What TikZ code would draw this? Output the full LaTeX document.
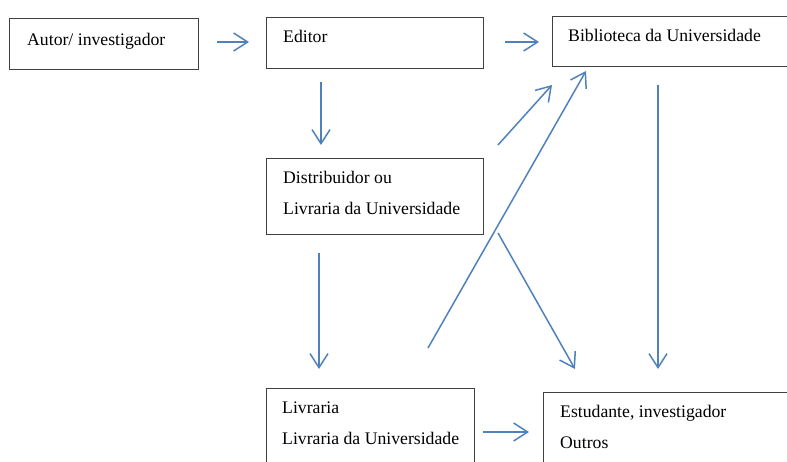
\documentclass[tikz,border=0pt]{standalone}
\usepackage{fontspec}
\setmainfont{Liberation Serif}
\usetikzlibrary{arrows.meta}
\definecolor{arr}{HTML}{4F81BD}
\definecolor{frame}{HTML}{404040}
\tikzset{
  box/.style={draw=frame, line width=1pt, anchor=north west, inner sep=0pt},
  lbl/.style={anchor=base west, inner sep=0pt, font=\fontsize{17.7}{20}\selectfont},
  conn/.style={draw=arr, line width=1.5pt, -{Straight Barb[length=14pt,width=18pt,line width=1.5pt]}},
  thick conn/.style={conn, line width=2.4pt},
}
\begin{document}
\begin{tikzpicture}[x=1pt,y=-1pt]
\useasboundingbox (0,0) rectangle (787,462);
\begin{scope}
\clip (0,0) rectangle (787,462);
\node[box, minimum width=189pt, minimum height=51pt] (autor) at (9,18) {};
\node[box, minimum width=217pt, minimum height=51pt] (editor) at (266,17) {};
\node[box, minimum width=245pt, minimum height=50pt] (bib) at (552,16) {};
\node[box, minimum width=217pt, minimum height=76pt] (dist) at (266,158) {};
\node[box, minimum width=208pt, minimum height=90pt] (livr) at (266,388) {};
\node[box, minimum width=260pt, minimum height=90pt] (est) at (543,392) {};
\end{scope}

\node[lbl] (tautor) at (27,46) {Autor/ investigador};
\node[lbl] (teditor) at (283,43) {Editor};
\node[lbl] (tbib) at (568,42) {Biblioteca da Universidade};
\node[lbl] (tdist1) at (283,184) {Distribuidor ou};
\node[lbl] (tdist2) at (283,215) {Livraria da Universidade};
\node[lbl] (tlivr1) at (282,413) {Livraria};
\node[lbl] (tlivr2) at (282,444) {Livraria da Universidade};
\node[lbl] (test1) at (560,417) {Estudante, investigador};
\node[lbl] (test2) at (560,448) {Outros};

% connector endpoints
\coordinate (a1s) at (217,42);  \coordinate (a1e) at (249,42);
\coordinate (a2s) at (505,42);  \coordinate (a2e) at (539,42);
\coordinate (a3s) at (321,82);  \coordinate (a3e) at (321,145);
\coordinate (a4s) at (319,253); \coordinate (a4e) at (319,369);
\coordinate (a5s) at (498,145); \coordinate (a5e) at (552,85);
\coordinate (a6s) at (428,348); \coordinate (a6e) at (586,71);
\coordinate (a7s) at (498,233); \coordinate (a7e) at (575,369);
\coordinate (a8s) at (658,85);  \coordinate (a8e) at (658,369);
\coordinate (a9s) at (483,432); \coordinate (a9e) at (529,432);

\draw[thick conn] (a1s) -- (a1e);
\draw[thick conn] (a2s) -- (a2e);
\draw[conn] (a3s) -- (a3e);
\draw[conn] (a4s) -- (a4e);
\draw[conn] (a5s) -- (a5e);
\draw[conn] (a6s) -- (a6e);
\draw[conn] (a7s) -- (a7e);
\draw[conn] (a8s) -- (a8e);
\draw[conn] (a9s) -- (a9e);
\end{tikzpicture}
\end{document}
